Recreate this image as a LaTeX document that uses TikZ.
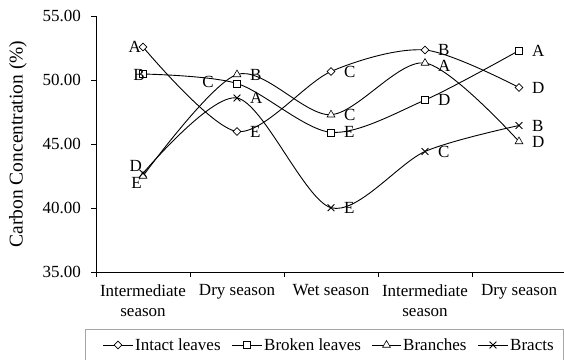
\documentclass[tikz,border=0pt]{standalone}
\usepackage{fontspec}
\setmainfont{Liberation Serif}
\usetikzlibrary{shapes.geometric,shapes.misc}
\begin{document}
\begin{tikzpicture}[x=1pt,y=-1pt,
  font=\fontsize{17}{19}\selectfont,
  axis/.style={line width=0.9pt},
  series/.style={line width=0.9pt},
  mk/.style={draw, fill=white, inner sep=0pt, line width=0.6pt},
  dia/.style={mk, diamond, minimum size=8pt},
  sq/.style={mk, rectangle, minimum size=7pt},
  tri/.style={mk, regular polygon, regular polygon sides=3, minimum size=9pt},
  crs/.style={draw, cross out, inner sep=0pt, minimum size=6pt, line width=0.8pt},
  lab/.style={inner sep=0pt, anchor=west, xshift=13pt},
  labl/.style={inner sep=0pt, anchor=east},
  ticklab/.style={inner sep=0pt, anchor=east},
  catlab/.style={inner sep=0pt, align=center, anchor=north, font=\fontsize{17}{20}\selectfont},
  legtext/.style={inner sep=0pt, anchor=west},
]
\useasboundingbox (0,0) rectangle (564,359);

% axes
\coordinate (o) at (96,272);
\coordinate (ytop) at (96,16);
\coordinate (xend) at (566,272);
\draw[axis] (ytop) -- (o) -- (xend);
\foreach \v/\y in {55.00/16,50.00/80,45.00/144,40.00/208,35.00/272}{
  \draw[line width=0.6pt] (91,\y) -- (96,\y);
  \node[ticklab] (t\y) at (81,\y) {\v};
}
\foreach \x in {96,190,284,378,472}{
  \draw[line width=0.6pt] (\x,272) -- (\x,277);
}
\node[rotate=90, inner sep=0pt, font=\fontsize{19.5}{22}\selectfont] (ylab) at (18,144) {Carbon Concentration (\%)};

\node[catlab] (c1) at (143,284) {Intermediate\\season};
\node[catlab] (c2) at (237,284) {Dry season};
\node[catlab] (c3) at (331,284) {Wet season};
\node[catlab] (c4) at (425,284) {Intermediate\\season};
\node[catlab] (c5) at (519,284) {Dry season};

% data points
\coordinate (i1) at (143,47);   \coordinate (i2) at (237,131.5); \coordinate (i3) at (331,71.5);
\coordinate (i4) at (425,50);   \coordinate (i5) at (519,87.5);
\coordinate (b1) at (143,74);   \coordinate (b2) at (237,83.5);  \coordinate (b3) at (331,132.3);
\coordinate (b4) at (425,100);  \coordinate (b5) at (519,50.5);
\coordinate (r1) at (143,176);  \coordinate (r2) at (237,74.5);  \coordinate (r3) at (331,114.7);
\coordinate (r4) at (425,63);   \coordinate (r5) at (519,141.5);
\coordinate (x1) at (143,173.3);\coordinate (x2) at (237,98);    \coordinate (x3) at (331,207.7);
\coordinate (x4) at (425,151.5);\coordinate (x5) at (519,125.5);

\draw[series] plot[smooth, tension=0.5] coordinates {(i1) (i2) (i3) (i4) (i5)};
\draw[series] plot[smooth, tension=0.5] coordinates {(b1) (b2) (b3) (b4) (b5)};
\draw[series] plot[smooth, tension=0.5] coordinates {(r1) (r2) (r3) (r4) (r5)};
\draw[series] plot[smooth, tension=0.5] coordinates {(x1) (x2) (x3) (x4) (x5)};

\foreach \n in {1,...,5}{
  \node[dia] (mi\n) at (i\n) {};
  \node[sq]  (mb\n) at (b\n) {};
  \node[tri] (mr\n) at (r\n) {};
  \node[crs] (mx\n) at (x\n) {};
}

% point labels
\node[labl] (li1) at (141,46.5) {A};
\node[labl] (lb1) at (145,75) {B};
\node[labl] (lx1) at (142,166) {D};
\node[labl] (lr1) at (142,183) {E};

\node[lab] (li2) at (i2) {E};
\node[labl] (lb2) at (214,82) {C};
\node[lab] (lr2) at (r2) {B};
\node[lab] (lx2) at (x2) {A};

\node[lab] (li3) at (i3) {C};
\node[lab] (lr3) at (r3) {C};
\node[lab] (lb3) at (b3) {E};
\node[lab] (lx3) at (x3) {E};

\node[lab] (li4) at (425,49.5) {B};
\node[lab] (lr4) at (425,65.5) {A};
\node[lab] (lb4) at (b4) {D};
\node[lab] (lx4) at (x4) {C};

\node[lab] (lb5) at (b5) {A};
\node[lab] (li5) at (i5) {D};
\node[lab] (lx5) at (x5) {B};
\node[lab] (lr5) at (519,142) {D};

% legend
\draw[gray!70, line width=0.7pt] (85,365) -- (85,329) -- (563,329) -- (563,365);
\coordinate (la1) at (103,345); \coordinate (la2) at (133,345);
\coordinate (lb1c) at (232,345); \coordinate (lb2c) at (262,345);
\coordinate (lc1) at (372,345); \coordinate (lc2) at (401,345);
\coordinate (ld1) at (478,345); \coordinate (ld2) at (508,345);
\draw[series] (la1) -- (la2);
\draw[series] (lb1c) -- (lb2c);
\draw[series] (lc1) -- (lc2);
\draw[series] (ld1) -- (ld2);
\node[dia] (lgi) at (118,345) {};
\node[sq]  (lgb) at (247,345) {};
\node[tri] (lgr) at (386.5,345) {};
\node[crs] (lgx) at (493,345) {};
\node[legtext] (lti) at (135,345) {Intact leaves};
\node[legtext] (ltb) at (264,345) {Broken leaves};
\node[legtext] (ltr) at (403,345) {Branches};
\node[legtext] (ltx) at (510,345) {Bracts};
\end{tikzpicture}
\end{document}
